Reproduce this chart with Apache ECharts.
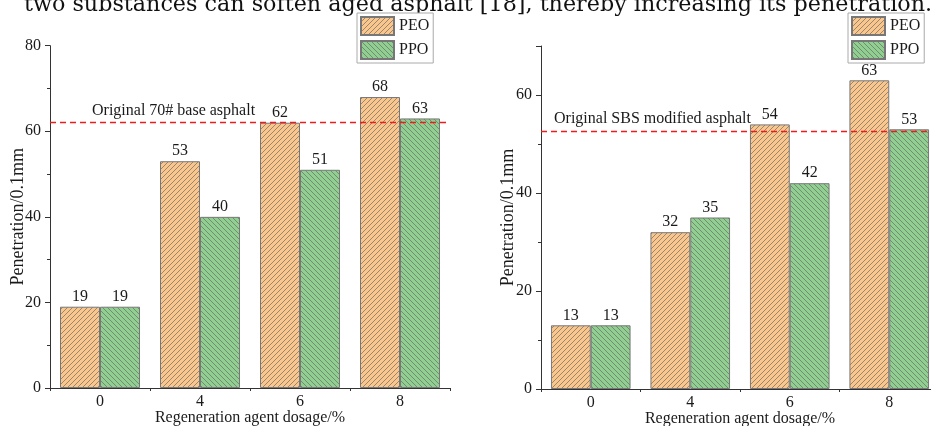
<!DOCTYPE html>
<html><head><meta charset="utf-8">
<script src="https://cdn.jsdelivr.net/npm/echarts@6/dist/echarts.min.js"></script>
<style>html,body{margin:0;padding:0;background:#fff}#c{width:931px;height:426px}</style>
</head><body><div id="c"></div>
<script>
const categories = ['0', '4', '6', '8'];
const seriesNames = ['PEO', 'PPO'];
const peoLeft = [19, 53, 62, 68];
const ppoLeft = [19, 40, 51, 63];
const peoRight = [13, 32, 54, 63];
const ppoRight = [13, 35, 42, 53];
const baseLeft = 62;
const baseRight = 52.6;
const baseLabelLeft = 'Original 70# base asphalt';
const baseLabelRight = 'Original SBS modified asphalt';
const yMaxLeft = 80;
const yMaxRight = 70;
const xName = 'Regeneration agent dosage/%';
const yName = 'Penetration/0.1mm';
const topText = 'two substances can soften aged asphalt [18], thereby increasing its penetration.';

function hatch(bg, dir) {
  const s = 5;
  const c = document.createElement('canvas');
  c.width = s; c.height = s;
  const g = c.getContext('2d');
  g.fillStyle = bg; g.fillRect(0, 0, s, s);
  g.strokeStyle = '#6a6a6a'; g.lineWidth = 0.7;
  g.beginPath();
  for (const k of [-s, 0, s]) {
    if (dir === '/') { g.moveTo(k, s); g.lineTo(k + s, 0); }
    else { g.moveTo(k, 0); g.lineTo(k + s, s); }
  }
  g.stroke();
  return { image: c, repeat: 'repeat' };
}
const peoFill = hatch('#FAC68C', '/');
const ppoFill = hatch('#8FCF8F', '\\');

const font = 'Liberation Serif';
const axisColor = '#333';
const txt = { fontFamily: font, fontSize: 16, color: '#1a1a1a' };

function xAxes(gi) {
  return [
    { type: 'category', gridIndex: gi, data: categories, name: xName, nameLocation: 'middle', nameGap: 22,
      nameMoveOverlap: false,
      nameTextStyle: txt, axisLine: { lineStyle: { color: axisColor } },
      axisTick: { alignWithLabel: true, length: 5, lineStyle: { color: axisColor } },
      axisLabel: Object.assign({ margin: 6 }, txt) },
    { type: 'value', gridIndex: gi, min: 0, max: 4, interval: 1, position: 'bottom',
      axisLine: { show: false }, axisLabel: { show: false }, splitLine: { show: false },
      axisTick: { show: true, length: 3, lineStyle: { color: axisColor } } }
  ];
}
function yAxis(gi, max, showMax, gap) {
  return { type: 'value', gridIndex: gi, min: 0, max: max, interval: 20, name: yName, nameLocation: 'middle',
    nameGap: gap, nameMoveOverlap: false,
    nameTextStyle: Object.assign({}, txt, { fontSize: 18 }), splitLine: { show: false },
    axisLine: { show: true, lineStyle: { color: axisColor } },
    axisTick: { show: true, length: 5, lineStyle: { color: axisColor } },
    minorTick: { show: true, splitNumber: 2, length: 3, lineStyle: { color: axisColor } },
    axisLabel: Object.assign({ margin: 9, showMaxLabel: showMax }, txt) };
}
function barSeries(name, data, fill, xi, yi) {
  return { type: 'bar', name: name, data: data, xAxisIndex: xi, yAxisIndex: yi, barWidth: '40%', barGap: '0%',
    itemStyle: { color: fill, borderColor: '#777', borderWidth: 1 },
    label: Object.assign({ show: true, position: 'top', distance: 2 }, txt) };
}
function baseLine(val, text, pad) {
  return { silent: true, symbol: 'none', lineStyle: { color: '#ee1c1c', type: [6, 4], width: 1.3 },
    label: Object.assign({ position: 'insideStartTop', formatter: text, distance: 4, padding: [0, 0, 0, pad] }, txt),
    data: [{ yAxis: val }] };
}

const chart = echarts.init(document.getElementById('c'), null, { renderer: 'canvas' });
const s0 = barSeries(seriesNames[0], peoLeft, peoFill, 0, 0);
s0.markLine = baseLine(baseLeft, baseLabelLeft, 38);
const s2 = barSeries(seriesNames[0], peoRight, peoFill, 2, 1);
s2.markLine = baseLine(baseRight, baseLabelRight, 9);
const legendBase = { orient: 'vertical', icon: 'rect', itemWidth: 33, itemHeight: 18, itemGap: 4, padding: [3, 4, 3, 3],
  borderColor: '#aaa', borderWidth: 1, backgroundColor: '#fff', textStyle: txt, data: seriesNames, selectedMode: false };
chart.setOption({
  animation: false,
  backgroundColor: '#fff',
  graphic: [{ type: 'text', left: 24, top: -6, style: { text: topText, font: '22.25px "DejaVu Serif"', fill: '#111' } }],
  legend: [Object.assign({ left: 357, top: 13 }, legendBase), Object.assign({ left: 848, top: 13 }, legendBase)],
  grid: [
    { left: 50, top: 45.7, width: 400, height: 342.3, outerBoundsMode: 'none', containLabel: false },
    { left: 541, top: 46, width: 398, height: 343, outerBoundsMode: 'none', containLabel: false }
  ],
  xAxis: xAxes(0).concat(xAxes(1)),
  yAxis: [yAxis(0, yMaxLeft, true, 23), yAxis(1, yMaxRight, false, 24)],
  series: [s0, barSeries(seriesNames[1], ppoLeft, ppoFill, 0, 0), s2, barSeries(seriesNames[1], ppoRight, ppoFill, 2, 1)]
});
</script></body></html>
